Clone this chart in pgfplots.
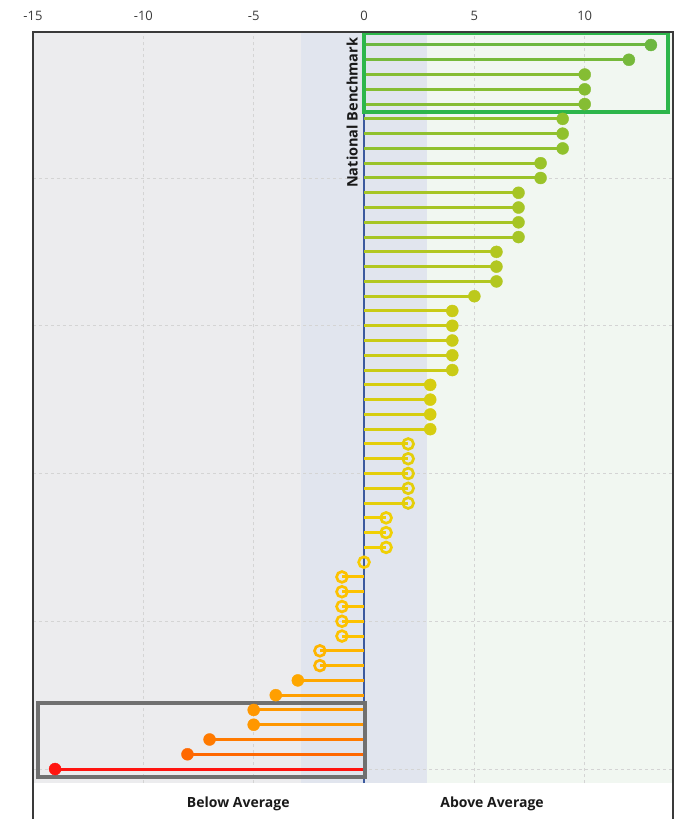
\documentclass[border=0pt]{standalone}
\usepackage{fontspec}
\setmainfont{Open Sans}
\usepackage{pgfplots}
\pgfplotsset{compat=1.18}
\definecolor{c13}{HTML}{6CB740}
\definecolor{c12}{HTML}{76B93B}
\definecolor{c10}{HTML}{85BD33}
\definecolor{c9}{HTML}{90C12D}
\definecolor{c8}{HTML}{9AC329}
\definecolor{c7}{HTML}{A6C525}
\definecolor{c6}{HTML}{B2C720}
\definecolor{c5}{HTML}{BCC91C}
\definecolor{c4}{HTML}{C9CB16}
\definecolor{c3}{HTML}{D6CD10}
\definecolor{c2}{HTML}{E4CE0A}
\definecolor{c1}{HTML}{F0D005}
\definecolor{c0}{HTML}{F8CC00}
\definecolor{cm1}{HTML}{FDC200}
\definecolor{cm2}{HTML}{FEB500}
\definecolor{cm3}{HTML}{FEA700}
\definecolor{cm4}{HTML}{FF9F00}
\definecolor{cm5}{HTML}{FF9700}
\definecolor{cm7}{HTML}{FF7A00}
\definecolor{cm8}{HTML}{FF6800}
\definecolor{cm14}{HTML}{FF1410}
\definecolor{bgL}{HTML}{ECECEE}
\definecolor{bgM}{HTML}{E1E5EE}
\definecolor{bgR}{HTML}{F1F7F1}
\definecolor{bench}{HTML}{3C5A9E}
\definecolor{gbox}{HTML}{2DB64B}
\definecolor{kbox}{HTML}{707070}
\definecolor{frame}{HTML}{3A3A3A}
\definecolor{gridc}{HTML}{D4D4D4}
\pgfplotsset{
  stemf/.style={xcomb, color=#1, line width=3pt, mark=*, mark size=6pt,
    mark options={solid, fill=#1, draw=#1, line width=0.4pt}},
  stemo/.style={xcomb, color=#1, line width=3pt, mark=o, mark size=5.4pt,
    mark options={solid, draw=#1, fill=none, line width=2.7pt}},
}
\begin{document}
\begin{tikzpicture}
\useasboundingbox (-33pt,0) rectangle (644pt,819pt);
\begin{axis}[
  at={(0,0)}, anchor=south west,
  scale only axis, width=640pt, height=787pt,
  xmin=-15, xmax=14, ymin=-2.38, ymax=50.88,
  clip=false,
  axis line style={draw=none},
  xtick={-15,-10,-5,0,5,10},
  xticklabel pos=upper,
  major tick length=0pt,
  xticklabel shift=7.7pt,
  ytick=\empty,
  /pgf/number format/assume math mode=true,
  xticklabel style={font=\fontsize{13}{15}\selectfont, text=frame},
]
% backgrounds
\fill[bgL] (axis cs:-15,0.05) rectangle (axis cs:-2.85,50.88);
\fill[bgM] (axis cs:-2.85,0.05) rectangle (axis cs:2.85,50.88);
\fill[bgR] (axis cs:2.85,0.05) rectangle (axis cs:14,50.88);
% grid
\foreach \gx in {-10,-5,5,10} {
  \edef\temp{\noexpand\draw[gridc, line width=0.8pt, dash pattern=on 3pt off 3pt] (axis cs:\gx,0.05) -- (axis cs:\gx,50.88);}
  \temp
}
\foreach \gy in {1,11,21,31,41} {
  \edef\temp{\noexpand\draw[gridc, line width=0.8pt, dash pattern=on 3pt off 3pt] (axis cs:-15,\gy) -- (axis cs:14,\gy);}
  \temp
}
% benchmark line
\draw[bench, line width=2pt] (axis cs:0,0.05) -- (axis cs:0,50.88);
\node[rotate=90, anchor=south west, inner sep=0pt, font=\fontsize{14.5}{16}\selectfont\bfseries, text=black!90]
  at (axis cs:-0.27,40.32) {National Benchmark};
% data
\addplot[stemf=c13] coordinates {(13,50)};
\addplot[stemf=c12] coordinates {(12,49)};
\addplot[stemf=c10] coordinates {(10,48) (10,47) (10,46)};
\addplot[stemf=c9] coordinates {(9,45) (9,44) (9,43)};
\addplot[stemf=c8] coordinates {(8,42) (8,41)};
\addplot[stemf=c7] coordinates {(7,40) (7,39) (7,38) (7,37)};
\addplot[stemf=c6] coordinates {(6,36) (6,35) (6,34)};
\addplot[stemf=c5] coordinates {(5,33)};
\addplot[stemf=c4] coordinates {(4,32) (4,31) (4,30) (4,29) (4,28)};
\addplot[stemf=c3] coordinates {(3,27) (3,26) (3,25) (3,24)};
\addplot[stemo=c2] coordinates {(2,23) (2,22) (2,21) (2,20) (2,19)};
\addplot[stemo=c1] coordinates {(1,18) (1,17) (1,16)};
\addplot[stemo=c0] coordinates {(0,15)};
\addplot[stemo=cm1] coordinates {(-1,14) (-1,13) (-1,12) (-1,11) (-1,10)};
\addplot[stemo=cm2] coordinates {(-2,9) (-2,8)};
\addplot[stemf=cm3] coordinates {(-3,7)};
\addplot[stemf=cm4] coordinates {(-4,6)};
\addplot[stemf=cm5] coordinates {(-5,5) (-5,4)};
\addplot[stemf=cm7] coordinates {(-7,3)};
\addplot[stemf=cm8] coordinates {(-8,2)};
\addplot[stemf=cm14] coordinates {(-14,1)};
% highlight boxes
\draw[gbox, line width=4pt] (axis cs:0,50.81) rectangle (axis cs:13.77,45.47);
\draw[kbox, line width=4pt] (axis cs:-14.77,5.48) rectangle (axis cs:0.05,0.47);
% labels
\node[font=\fontsize{14}{16}\selectfont\bfseries, text=black!90] at (axis cs:-5.7,-1.33) {Below Average};
\node[font=\fontsize{14}{16}\selectfont\bfseries, text=black!90] at (axis cs:5.8,-1.33) {Above Average};
% frame
\draw[frame, line width=1.3pt] (rel axis cs:0,0) -- (rel axis cs:0,1) -- (rel axis cs:1,1) -- (rel axis cs:1,0);
\end{axis}
\end{tikzpicture}
\end{document}
